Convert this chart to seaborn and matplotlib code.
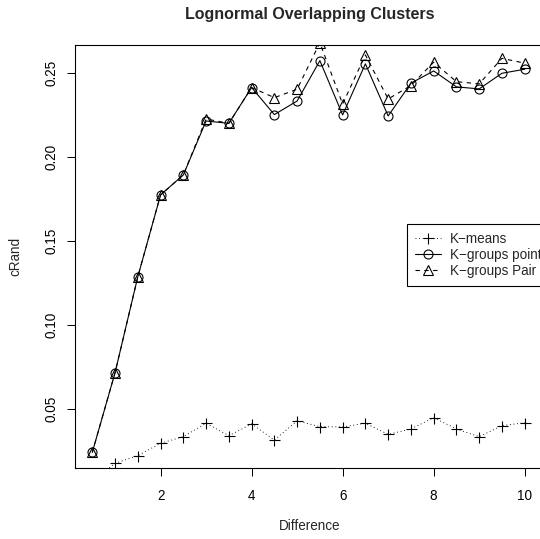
import numpy as np
import pandas as pd
import matplotlib
matplotlib.use("Agg")
import matplotlib.pyplot as plt
import seaborn as sns

# values
difference = [0.5, 1.0, 1.5, 2.0, 2.5, 3.0, 3.5, 4.0, 4.5, 5.0,
              5.5, 6.0, 6.5, 7.0, 7.5, 8.0, 8.5, 9.0, 9.5, 10.0]
kmeans = [0.007, 0.0177, 0.0222, 0.0296, 0.0335, 0.0415, 0.0341, 0.0411, 0.0315, 0.0429,
          0.0395, 0.0393, 0.0415, 0.0349, 0.0381, 0.0448, 0.0381, 0.0335, 0.0401, 0.0418]
kgroups_point = [0.0242, 0.0716, 0.1287, 0.1774, 0.1893, 0.2214, 0.2200, 0.2413, 0.2252, 0.2333,
                 0.2573, 0.2250, 0.2554, 0.2244, 0.2439, 0.2512, 0.2417, 0.2405, 0.2498, 0.2522]
kgroups_pair = [0.0242, 0.0716, 0.1287, 0.1774, 0.1893, 0.2226, 0.2200, 0.2413, 0.2353, 0.2403,
                0.2680, 0.2315, 0.2607, 0.2345, 0.2425, 0.2564, 0.2448, 0.2435, 0.2587, 0.2558]
x_ticks = [2, 4, 6, 8, 10]
y_ticks = [0.05, 0.10, 0.15, 0.20, 0.25]

sns.set_style("white")
plt.rcParams['font.family'] = ['Liberation Sans', 'DejaVu Sans']

df = pd.DataFrame({'Difference': difference, 'kmeans': kmeans,
                   'point': kgroups_point, 'pair': kgroups_pair})

fig = plt.figure(figsize=(540 / 72, 539 / 72), dpi=72)
ax = fig.add_axes([75 / 540, 1 - 468 / 539, (542 - 75) / 540, (468 - 45) / 539])

sns.lineplot(data=df, x='Difference', y='kmeans', ax=ax, color='black', lw=0.9,
             linestyle=(0, (1, 3)), marker='+', markersize=11, markeredgewidth=1.1,
             markeredgecolor='black', label='K\u2212means')
sns.lineplot(data=df, x='Difference', y='point', ax=ax, color='black', lw=1.1,
             linestyle='-', marker='o', markersize=9, markeredgewidth=1.1,
             markerfacecolor='none', markeredgecolor='black', label='K\u2212groups point')
sns.lineplot(data=df, x='Difference', y='pair', ax=ax, color='black', lw=1.1,
             linestyle=(0, (4, 4)), marker='^', markersize=10, markeredgewidth=1.1,
             markerfacecolor='none', markeredgecolor='black', label='K\u2212groups Pair')

# R style axis ranges: 4% padding around the K-groups point range
rng = max(difference) - min(difference)
ax.set_xlim(min(difference) - 0.04 * rng, max(difference) + 0.04 * rng)
yr = max(kgroups_point) - min(kgroups_point)
ax.set_ylim(min(kgroups_point) - 0.04 * yr, max(kgroups_point) + 0.04 * yr)

ax.set_xticks(x_ticks)
ax.set_xticklabels([str(t) for t in x_ticks])
ax.set_yticks(y_ticks)
ax.set_yticklabels(['%.2f' % t for t in y_ticks], rotation=90, va='center')
ax.tick_params(direction='out', length=8, width=1, labelsize=13.5,
               bottom=True, left=True, colors='black')
ax.tick_params(axis='x', pad=12.5)
ax.tick_params(axis='y', pad=8)
for s in ax.spines.values():
    s.set_color('black')
    s.set_linewidth(1.1)

ax.set_xlabel('')
ax.set_ylabel('')
fig.text(310 / 540, 1 - 526 / 539, 'Difference', ha='center', va='center', fontsize=13.5)
fig.text(15 / 540, 1 - 256 / 539, 'cRand', ha='center', va='center', fontsize=13.5, rotation=90)
fig.text(310 / 540, 1 - 14 / 539, 'Lognormal Overlapping Clusters', ha='center', va='center',
         fontsize=16, fontweight='bold')

leg = ax.legend(loc='upper left', bbox_to_anchor=(407 / 540, 1 - 224 / 539),
                bbox_transform=fig.transFigure, frameon=True, fancybox=False,
                edgecolor='black', fontsize=13.5, handlelength=1.9, handletextpad=0.7,
                labelspacing=0.13, borderpad=0.6, borderaxespad=0, framealpha=1)
leg.get_frame().set_linewidth(1.1)

fig.savefig('out.png', dpi=72)
